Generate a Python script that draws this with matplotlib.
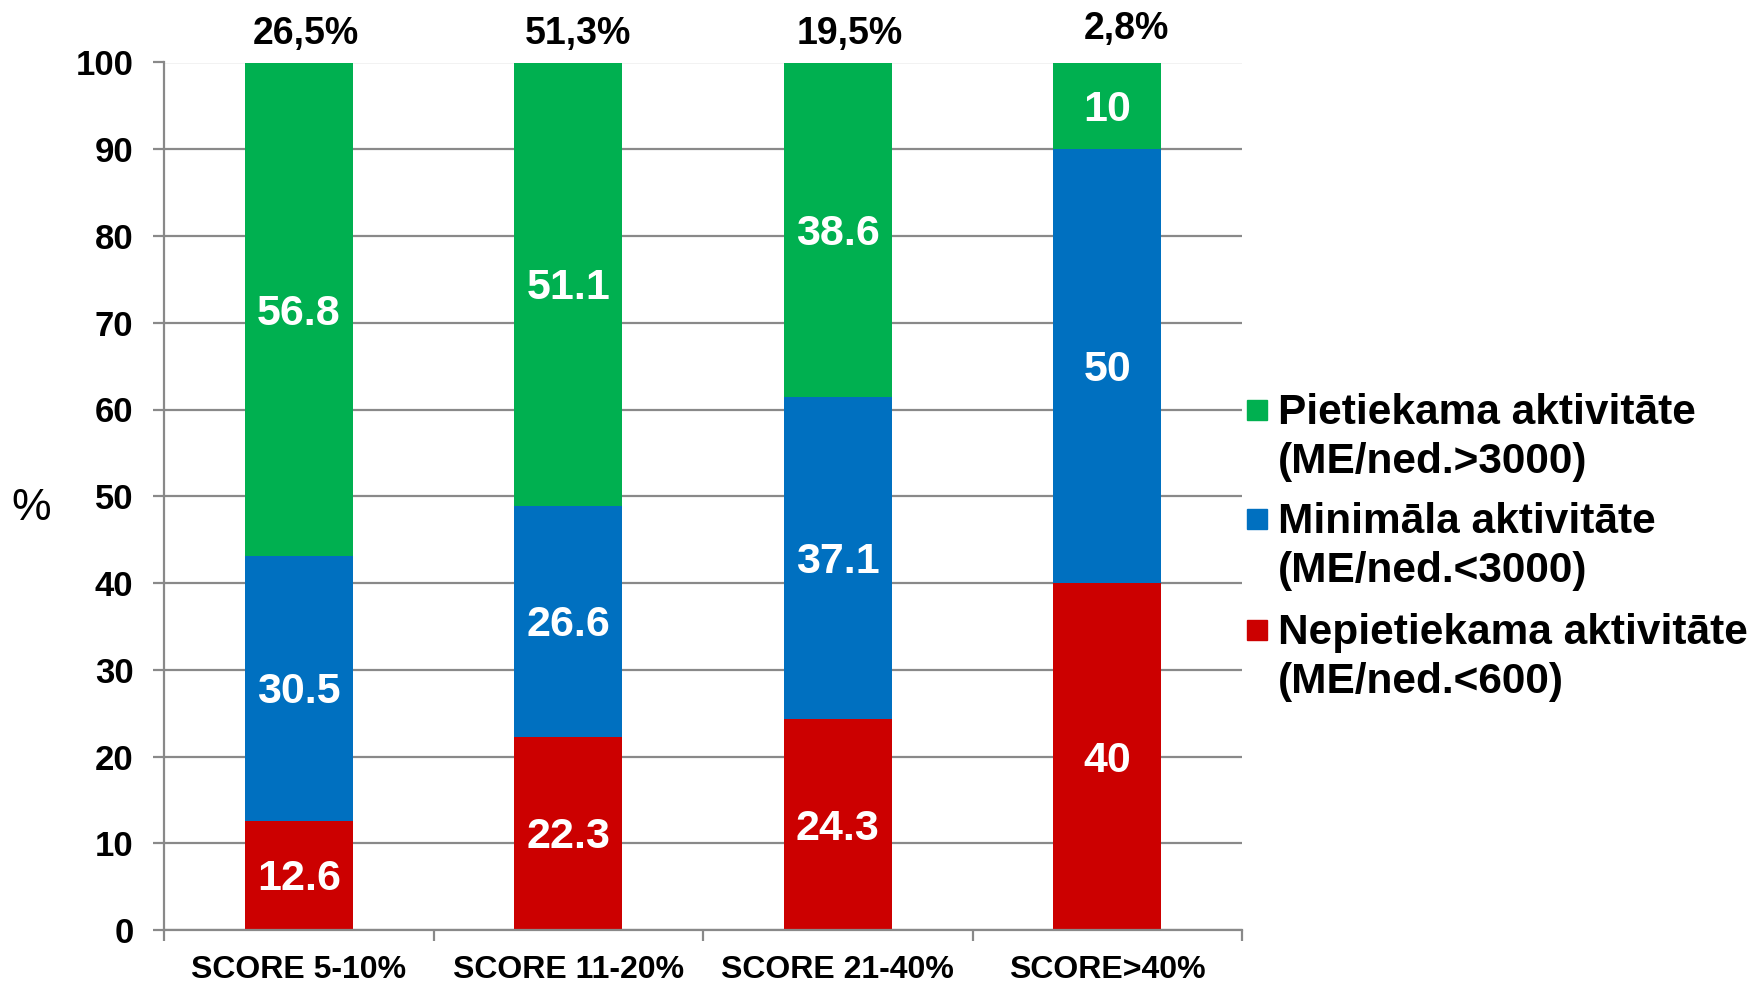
import matplotlib
matplotlib.use("Agg")
import matplotlib.pyplot as plt
from matplotlib.patches import Rectangle
from matplotlib.transforms import offset_copy

plt.rcParams["font.family"] = ["Liberation Sans", "DejaVu Sans"]

categories = ["SCORE 5-10%", "SCORE 11-20%", "SCORE 21-40%", "SCORE>40%"]
share_pct = [26.5, 51.3, 19.5, 2.8]          # share of patients in each group
insufficient = [12.6, 22.3, 24.3, 40]        # Nepietiekama aktivitāte
minimal = [30.5, 26.6, 37.1, 50]             # Minimāla aktivitāte
sufficient = [56.8, 51.1, 38.6, 10]          # Pietiekama aktivitāte

legend_labels = ["Pietiekama aktivitāte\n(ME/ned.>3000)",
                 "Minimāla aktivitāte\n(ME/ned.<3000)",
                 "Nepietiekama aktivitāte\n(ME/ned.<600)"]
GREEN, BLUE, RED = "#00B050", "#0070C0", "#CC0000"
GRID = "#898989"
# hand-placed nudges (px) of the share labels above the bars
share_nudge = [(7, 0), (10, 0), (12, 0), (19, 5)]

fig = plt.figure(figsize=(17.5, 9.83), dpi=100)
ax = fig.add_axes([164 / 1750, 1 - 930 / 983, (1242 - 164) / 1750, (930 - 62.5) / 983])

x = range(len(categories))
w = 0.4
bottoms2 = [a + b for a, b in zip(insufficient, minimal)]
ax.bar(x, insufficient, w, color=RED, zorder=2)
ax.bar(x, minimal, w, bottom=insufficient, color=BLUE, zorder=2)
ax.bar(x, sufficient, w, bottom=bottoms2, color=GREEN, zorder=2)

# segment values, centred in each block (nudged a few px down)
seg_tf = offset_copy(ax.transData, fig=fig, x=0, y=-4, units="dots")
for i in x:
    for base, v in ((0, insufficient[i]), (insufficient[i], minimal[i]),
                    (bottoms2[i], sufficient[i])):
        ax.text(i, base + v / 2, f"{v:g}", ha="center", va="center", transform=seg_tf,
                color="white", fontsize=31, fontweight="bold", zorder=3)
    dx, dy = share_nudge[i]
    top_tf = offset_copy(ax.transData, fig=fig, x=dx, y=dy, units="dots")
    ax.text(i, 103.3, f"{share_pct[i]:.1f}%".replace(".", ","), ha="center",
            va="center", fontsize=27, fontweight="bold", clip_on=False,
            transform=top_tf)

ax.set_xlim(-0.5, 3.5)
ax.set_ylim(0, 100)
ax.set_yticks(range(0, 101, 10))
ax.yaxis.grid(True, color=GRID, lw=1.6, zorder=0)
ax.set_axisbelow(True)
for s in ("top", "right"):
    ax.spines[s].set_visible(False)
for s in ("left", "bottom"):
    ax.spines[s].set_color(GRID)
    ax.spines[s].set_linewidth(1.6)

ax.set_xticks(list(x))
ax.set_xticklabels(categories)
ax.set_xticks([-0.5, 0.5, 1.5, 2.5, 3.5], minor=True)
ax.tick_params(axis="x", which="major", length=0, pad=18, labelsize=23)
ax.tick_params(axis="x", which="minor", length=8, width=1.6, color=GRID)
ax.tick_params(axis="y", length=8, width=1.6, color=GRID, pad=14, labelsize=25)
for lbl in ax.get_xticklabels() + ax.get_yticklabels():
    lbl.set_fontweight("bold")

fig.text(31 / 1750, 1 - 508 / 983, "%", ha="center", va="center", fontsize=32)

# legend: square aligned with the first line of each label
colors = [GREEN, BLUE, RED]
first_line = [410, 519, 630]
for c, lab, y in zip(colors, legend_labels, first_line):
    fig.patches.append(Rectangle((1247 / 1750, 1 - (y + 10) / 983), 20 / 1750, 20 / 983,
                                 transform=fig.transFigure, color=c))
    fig.text(1278 / 1750, 1 - (y - 17) / 983, lab, ha="left", va="top",
             fontsize=30.5, fontweight="bold", linespacing=1.3)

fig.savefig("out.png", dpi=100)
